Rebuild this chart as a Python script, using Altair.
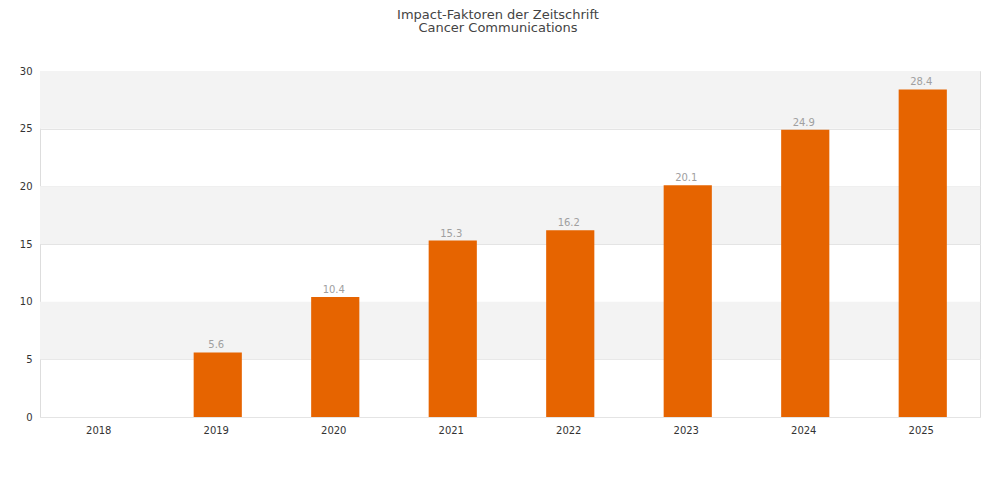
import altair as alt
import pandas as pd

years = ["2018", "2019", "2020", "2021", "2022", "2023", "2024", "2025"]
values = [None, 5.6, 10.4, 15.3, 16.2, 20.1, 24.9, 28.4]
band_starts = [5, 15, 25]
band_ends = [10, 20, 30]

df = pd.DataFrame({"year": years, "value": values})
df["label"] = [("" if v is None else f"{v:.1f}") for v in values]
bands = pd.DataFrame({"y0": band_starts, "y1": band_ends})

FONT = "DejaVu Sans"

yscale = alt.Scale(domain=[0, 30], nice=False)
xscale = alt.Scale(domain=years, paddingInner=0.59, paddingOuter=0.295)

band_layer = alt.Chart(bands).mark_rect(color="#f3f3f3").encode(
    y=alt.Y("y0:Q", scale=yscale),
    y2="y1:Q",
)

base = alt.Chart(df).encode(
    x=alt.X("year:O", scale=xscale, sort=years,
            axis=alt.Axis(title=None, labelAngle=0, ticks=False, domain=False,
                          labelPadding=8, labelFontSize=10, labelColor="#333333",
                          labelFont=FONT)),
    y=alt.Y("value:Q", scale=yscale,
            axis=alt.Axis(title=None, values=[0, 5, 10, 15, 20, 25, 30], ticks=False,
                          domain=False, grid=True, gridColor="#e4e4e4",
                          labelPadding=8, labelFontSize=10, labelColor="#333333",
                          labelFont=FONT)),
)

bars = base.mark_bar(color="#e66400", xOffset=1.5)
text = base.mark_text(dy=-7, color="#a0a0a0", fontSize=10, font=FONT).encode(text="label:N")

chart = alt.layer(band_layer, bars, text).properties(
    width=940,
    height=346,
    padding={"left": 32, "top": 63, "right": 12, "bottom": 60},
    autosize=alt.AutoSizeParams(type="none"),
    title=alt.Title(["Impact-Faktoren der Zeitschrift", "Cancer Communications"],
                    font=FONT, fontSize=13, fontWeight="normal", color="#444444",
                    anchor="middle", offset=31, lineHeight=13.5, dx=-12),
).configure_view(stroke="#dddddd")

chart.save("out.html", embed_options={"renderer": "svg", "actions": False})
